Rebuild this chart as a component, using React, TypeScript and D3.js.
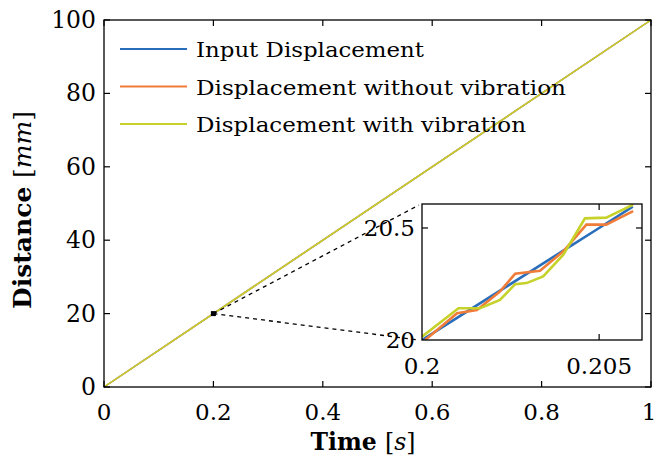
import React from "react";
import * as d3 from "d3";

const mainTime = [0, 0.2, 1];
const mainBlue = [0, 20, 100];
const mainOrange = [0, 20, 100];
const mainYellow = [0, 20, 100];

const xTicks = [0, 0.2, 0.4, 0.6, 0.8, 1];
const xTickLabels = ["0", "0.2", "0.4", "0.6", "0.8", "1"];
const yTicks = [0, 20, 40, 60, 80, 100];

const insetBlueT = [0.2, 0.201, 0.202, 0.203, 0.204, 0.205, 0.20595];
const insetBlueV = [20.0, 20.1, 20.2, 20.3, 20.4, 20.5, 20.595];
const insetOrangeT = [0.20009, 0.20099, 0.20155, 0.2022, 0.20263, 0.20333, 0.20399, 0.20464, 0.2052, 0.20596];
const insetOrangeV = [20.0, 20.119, 20.134, 20.216, 20.296, 20.309, 20.396, 20.515, 20.515, 20.575];
const insetYellowT = [0.2, 0.20103, 0.20164, 0.2022, 0.20263, 0.20295, 0.20342, 0.20399, 0.2046, 0.2052, 0.20596];
const insetYellowV = [20.015, 20.142, 20.142, 20.179, 20.249, 20.254, 20.284, 20.381, 20.543, 20.546, 20.604];

const legendLabels = ["Input Displacement", "Displacement without vibration", "Displacement with vibration"];
const COLORS = ["#2a6ebb", "#f07c3a", "#c6d22a"];

export default function App() {
  const x = d3.scaleLinear().domain([0, 1]).range([104, 651]);
  const y = d3.scaleLinear().domain([0, 100]).range([387, 20]);
  const ix = d3.scaleLinear().domain([0.2, 0.20621]).range([422, 642]);
  const iy = d3.scaleLinear().domain([20, 20.607]).range([340, 204]);

  const mainLine = (vals: number[]) =>
    d3.line<number>().x((_, i) => x(mainTime[i])).y((v) => y(v))(vals) as string;
  const insetLine = (t: number[], v: number[]) =>
    d3.line<number>().x((_, i) => ix(t[i])).y((d) => iy(d))(v) as string;

  const font = "'DejaVu Serif', serif";
  const mainSeries = [mainBlue, mainOrange, mainYellow];
  const insetSeries: [number[], number[]][] = [
    [insetBlueT, insetBlueV],
    [insetOrangeT, insetOrangeV],
    [insetYellowT, insetYellowV],
  ];
  const legendTL = [228, 370, 330];

  return (
    <svg width={656} height={461} style={{ position: "absolute", left: 0, top: 0, background: "#fff" }}>
      <rect x={0} y={0} width={656} height={461} fill="#fff" />
      {mainSeries.map((s, i) => (
        <path key={i} d={mainLine(s)} fill="none" stroke={COLORS[i]} strokeWidth={1.5} />
      ))}
      <rect x={104} y={20} width={547} height={367} fill="none" stroke="#000" strokeWidth={1.3} />
      {xTicks.map((t, i) => (
        <g key={"xt" + i}>
          <line x1={x(t)} x2={x(t)} y1={387} y2={381} stroke="#000" strokeWidth={1.2} />
          <line x1={x(t)} x2={x(t)} y1={20} y2={26} stroke="#000" strokeWidth={1.2} />
          <text x={i === xTicks.length - 1 ? x(t) - 2 : x(t)} y={420} textAnchor="middle" fontFamily={font} fontSize={23}>
            {xTickLabels[i]}
          </text>
        </g>
      ))}
      {yTicks.map((t, i) => (
        <g key={"yt" + i}>
          <line x1={104} x2={110} y1={y(t)} y2={y(t)} stroke="#000" strokeWidth={1.2} />
          <line x1={651} x2={645} y1={y(t)} y2={y(t)} stroke="#000" strokeWidth={1.2} />
          <text x={96} y={y(t) + 8} textAnchor="end" fontFamily={font} fontSize={23.5}>
            {String(t)}
          </text>
        </g>
      ))}
      <text x={363} y={450} textAnchor="middle" fontFamily={font} fontSize={23.5}>
        <tspan fontWeight="bold">Time </tspan>
        <tspan>[</tspan>
        <tspan fontStyle="italic">s</tspan>
        <tspan>]</tspan>
      </text>
      <text
        transform="translate(31,210) rotate(-90)"
        textAnchor="middle"
        fontFamily={font}
        fontSize={25}
      >
        <tspan fontWeight="bold">Distance </tspan>
        <tspan>[</tspan>
        <tspan fontStyle="italic">mm</tspan>
        <tspan>]</tspan>
      </text>
      {legendLabels.map((l, i) => (
        <g key={"lg" + i}>
          <line x1={120} x2={187} y1={49 + i * 37.5} y2={49 + i * 37.5} stroke={COLORS[i]} strokeWidth={2} />
          <text
            x={196}
            y={57 + i * 37.5}
            fontFamily={font}
            fontSize={20}
            textLength={legendTL[i]}
            lengthAdjust="spacingAndGlyphs"
          >
            {l}
          </text>
        </g>
      ))}
      <rect x={x(0.2) - 2.5} y={y(20) - 2.5} width={5} height={5} fill="#000" />
      <line x1={x(0.2)} y1={y(20)} x2={419} y2={205} stroke="#000" strokeWidth={1.3} strokeDasharray="4,4" />
      <line x1={x(0.2)} y1={y(20)} x2={419} y2={340} stroke="#000" strokeWidth={1.3} strokeDasharray="4,4" />
      <rect x={422} y={204} width={220} height={136} fill="#fff" />
      <defs>
        <clipPath id="insetClip">
          <rect x={422} y={204} width={220} height={136} />
        </clipPath>
      </defs>
      <g clipPath="url(#insetClip)">
        {insetSeries.map(([t, v], i) => (
          <path key={"in" + i} d={insetLine(t, v)} fill="none" stroke={COLORS[i]} strokeWidth={2.6} />
        ))}
      </g>
      <rect x={422} y={204} width={220} height={136} fill="none" stroke="#000" strokeWidth={1.3} />
      <line x1={ix(0.205)} x2={ix(0.205)} y1={340} y2={334} stroke="#000" strokeWidth={1.2} />
      <line x1={ix(0.205)} x2={ix(0.205)} y1={204} y2={210} stroke="#000" strokeWidth={1.2} />
      <line x1={422} x2={428} y1={iy(20.5)} y2={iy(20.5)} stroke="#000" strokeWidth={1.2} />
      <line x1={642} x2={636} y1={iy(20.5)} y2={iy(20.5)} stroke="#000" strokeWidth={1.2} />
      <text x={ix(0.2)} y={374} textAnchor="middle" fontFamily={font} fontSize={23}>0.2</text>
      <text x={ix(0.205)} y={374} textAnchor="middle" fontFamily={font} fontSize={23}>0.205</text>
      <text x={415} y={iy(20.5) + 8} textAnchor="end" fontFamily={font} fontSize={23}>20.5</text>
      <text x={415} y={iy(20) + 8} textAnchor="end" fontFamily={font} fontSize={23}>20</text>
    </svg>
  );
}
